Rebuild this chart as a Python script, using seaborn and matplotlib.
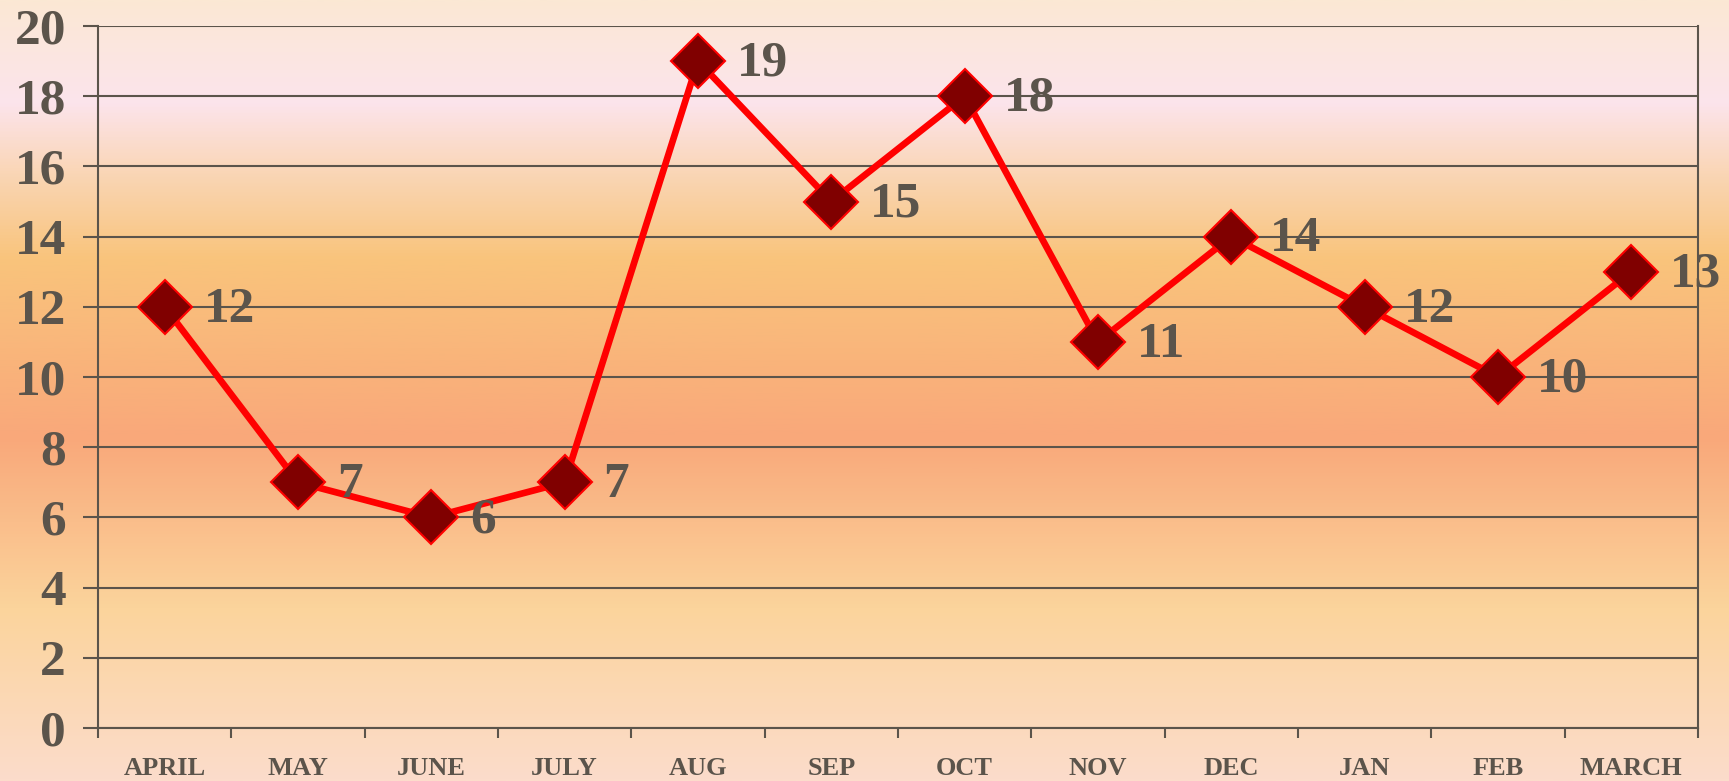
import matplotlib
matplotlib.use("Agg")
import matplotlib.pyplot as plt
import numpy as np
import pandas as pd
import seaborn as sns
from matplotlib.colors import LinearSegmentedColormap

# Data
months = ["APRIL", "MAY", "JUNE", "JULY", "AUG", "SEP", "OCT", "NOV", "DEC", "JAN", "FEB", "MARCH"]
values = [12, 7, 6, 7, 19, 15, 18, 11, 14, 12, 10, 13]
y_ticks = [0, 2, 4, 6, 8, 10, 12, 14, 16, 18, 20]

df = pd.DataFrame({"month": months, "value": values})
df["pos"] = range(len(months))

text_color = "#5b544b"

sns.set_theme(style="white")
plt.rcParams["font.family"] = ["Liberation Serif", "DejaVu Serif"]
plt.rcParams["font.weight"] = "bold"

fig = plt.figure(figsize=(17.29, 7.81), dpi=100)

# Background gradient over the whole figure
bg = fig.add_axes([0, 0, 1, 1], zorder=-10)
stops = [(0.0, "#fbe8d4"), (0.13, "#fce4ec"), (0.22, "#fad6b6"), (0.33, "#f9c47c"),
         (0.56, "#f9a87a"), (0.78, "#fbd49c"), (1.0, "#fcdccb")]
cmap = LinearSegmentedColormap.from_list("bg", stops)
grad = np.linspace(0, 1, 512).reshape(-1, 1)
bg.imshow(grad, aspect="auto", cmap=cmap, extent=[0, 1, 0, 1])
bg.set_axis_off()

ax = fig.add_axes([98 / 1729, 1 - 728 / 781, 1600 / 1729, 702 / 781])
ax.patch.set_alpha(0)

sns.lineplot(data=df, x="pos", y="value", ax=ax, color="#ff0000", linewidth=4.8,
             marker="D", markersize=28, markerfacecolor="#800000",
             markeredgecolor="#ff0000", markeredgewidth=1.5, zorder=5)

for x, v in zip(df["pos"], df["value"]):
    ax.annotate(str(v), (x, v), xytext=(28, -2), textcoords="offset points",
                ha="left", va="center", fontsize=37, fontweight="bold",
                color=text_color, zorder=6, annotation_clip=False)

ax.set_xlim(-0.5, len(months) - 0.5)
ax.set_ylim(0, 20)
ax.set_yticks(y_ticks)
ax.set_yticklabels([str(t) for t in y_ticks], fontsize=37, fontweight="bold", color=text_color)
ax.set_xticks(np.arange(-0.5, len(months), 1.0))
ax.set_xticklabels([])
ax.set_xticks(df["pos"], minor=True)
ax.set_xticklabels(months, minor=True, fontsize=19, fontweight="bold", color=text_color)
ax.tick_params(axis="x", which="minor", bottom=True, length=0, pad=21)
ax.tick_params(axis="x", which="major", bottom=True, length=7, width=1.5,
               color=text_color, direction="out")
ax.tick_params(axis="y", left=True, length=11, width=1.5, color=text_color, pad=12,
               direction="out")

ax.yaxis.grid(True, color=text_color, linewidth=1.5)
ax.set_axisbelow(True)
for side in ["left", "bottom", "right"]:
    ax.spines[side].set_visible(True)
    ax.spines[side].set_color(text_color)
    ax.spines[side].set_linewidth(1.5)
ax.spines["top"].set_visible(False)
ax.set_xlabel("")
ax.set_ylabel("")

fig.savefig("out.png", dpi=100)
